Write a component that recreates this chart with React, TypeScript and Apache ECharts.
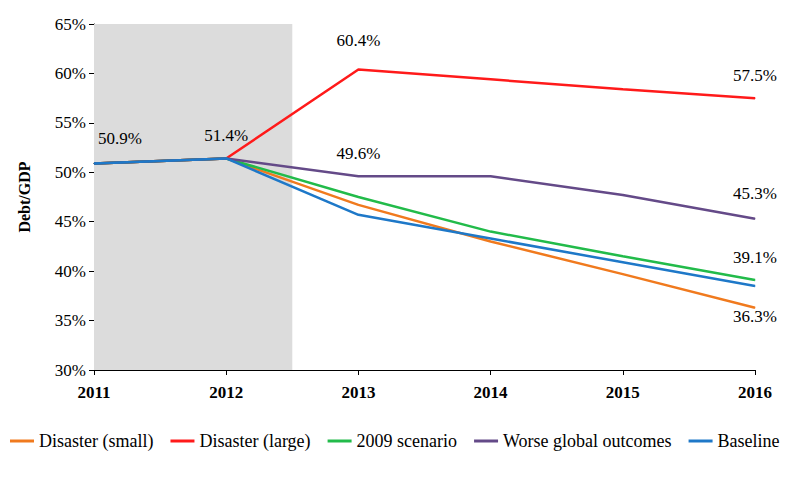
import React, { useEffect, useRef } from "react";
import * as echarts from "echarts";

const years = [2011, 2012, 2013, 2014, 2015, 2016];
const disasterSmall = [50.9, 51.4, 46.7, 43.0, 39.7, 36.3];
const disasterLarge = [50.9, 51.4, 60.4, 59.4, 58.4, 57.5];
const scenario2009 = [50.9, 51.4, 47.5, 44.0, 41.5, 39.1];
const worseGlobal = [50.9, 51.4, 49.6, 49.6, 47.7, 45.3];
const baseline = [50.9, 51.4, 45.7, 43.3, 40.9, 38.5];

const F = "Liberation Serif, Times New Roman, serif";

export default function App() {
  const ref = useRef<HTMLDivElement>(null);
  useEffect(() => {
    const chart = echarts.init(ref.current!, null, { renderer: "svg" });
    const lbl = (vals: number[], idx: number[], pos: any = "top", offs: any = {}) =>
      vals.map((v, i) => ({
        value: [years[i], v],
        label: idx.includes(i)
          ? { show: true, position: pos, offset: offs[i] || [0, 0], formatter: v.toFixed(1) + "%", fontFamily: F, fontSize: 17, color: "#000", distance: 14 }
          : { show: false },
      }));
    const mk = (name: string, color: string, data: any, z = 2) => ({
      name, type: "line", data, symbol: "circle", symbolSize: 1, showSymbol: true, z,
      lineStyle: { color, width: 2.5 }, itemStyle: { color },
    });
    chart.setOption({
      animation: false,
      textStyle: { fontFamily: F },
      grid: { left: 85, right: 34, top: 16, bottom: 101 },
      xAxis: {
        type: "value", min: 2011, max: 2016, interval: 1,
        axisLine: { lineStyle: { color: "#000" } },
        axisTick: { show: true, lineStyle: { color: "#000" } },
        splitLine: { show: false },
        axisLabel: { fontFamily: F, fontSize: 17, fontWeight: "bold", color: "#000", margin: 14, formatter: (v: number) => String(v) },
      },
      yAxis: {
        type: "value", min: 30, max: 65, interval: 5,
        name: "Debt/GDP", nameLocation: "middle", nameGap: 62,
        nameTextStyle: { fontFamily: F, fontSize: 16, fontWeight: "bold", color: "#000" },
        axisLine: { show: true, lineStyle: { color: "#000" } },
        axisTick: { show: true, lineStyle: { color: "#000" } },
        splitLine: { show: false },
        axisLabel: { fontFamily: F, fontSize: 17, color: "#000", formatter: "{value}%" },
      },
      legend: {
        bottom: 16, left: 0, width: 900, padding: [5, 2], itemWidth: 24, itemHeight: 3, itemGap: 17,
        icon: "rect",
        textStyle: { fontFamily: F, fontSize: 18, color: "#000" },
        data: ["Disaster (small)", "Disaster (large)", "2009 scenario", "Worse global outcomes", "Baseline"],
      },
      series: [
        {
          ...mk("Disaster (small)", "#F07A1E", lbl(disasterSmall, [5], "bottom", { 5: [0, -14] })),
          markArea: { silent: true, itemStyle: { color: "#DCDCDC" }, data: [[{ xAxis: 2011 }, { xAxis: 2012.5 }]] },
        },
        mk("Disaster (large)", "#FF1A1A", lbl(disasterLarge, [1, 2, 5], "top", { 1: [0, 0], 2: [0, -6], 5: [0, 0] })),
        mk("2009 scenario", "#22BB4A", lbl(scenario2009, [5], "top", { 5: [0, 0] })),
        mk("Worse global outcomes", "#644A88", lbl(worseGlobal, [2, 5], "top", { 2: [0, 0], 5: [0, -2] })),
        mk("Baseline", "#1E78C8", lbl(baseline, [0], "top", { 0: [26, -2] }), 3),
      ],
    });
    return () => chart.dispose();
  }, []);
  return <div ref={ref} style={{ width: 781, height: 463 }} />;
}
